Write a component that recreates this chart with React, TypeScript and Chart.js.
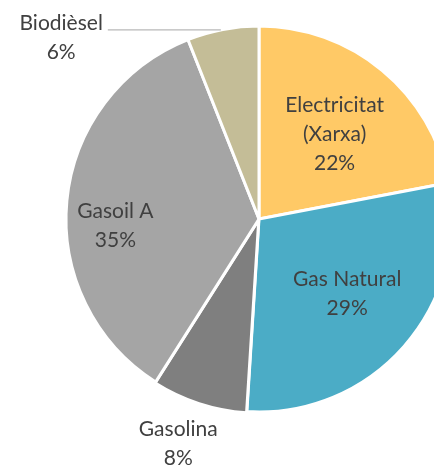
import React, { useEffect, useRef } from "react";
import { Chart, registerables } from "chart.js";

Chart.register(...registerables);

const categories = ["Electricitat (Xarxa)", "Gas Natural", "Gasolina", "Gasoil A", "Biodièsel"];
const values = [22, 29, 8, 35, 6];
const colors = ["#FFC966", "#4BACC6", "#7F7F7F", "#A5A5A5", "#C4BD97"];

// label placement (style): radial factor of outer radius, angle nudge (deg), leader line
const placement = [
  { r: 0.59, dA: 2 },
  { r: 0.6, dA: -1 },
  { r: 1.235, dA: 1.8 },
  { r: 0.745, dA: -8.2 },
  { leader: 113 },
];

const FONT = "21px Lato";
const TEXT_COLOR = "#404040";
const LINE_H = 29;

function wrapLines(ctx: CanvasRenderingContext2D, text: string, maxW: number): string[] {
  const words = text.split(" ");
  const lines: string[] = [];
  let cur = "";
  for (const w of words) {
    const t = cur ? cur + " " + w : w;
    if (cur && ctx.measureText(t).width > maxW) {
      lines.push(cur);
      cur = w;
    } else cur = t;
  }
  if (cur) lines.push(cur);
  return lines;
}

const labelPlugin = {
  id: "pieLabels",
  afterDatasetsDraw(chart: any) {
    const ctx: CanvasRenderingContext2D = chart.ctx;
    const meta = chart.getDatasetMeta(0);
    const data = chart.data.datasets[0].data as number[];
    const total = data.reduce((a, b) => a + b, 0);
    ctx.save();
    ctx.font = FONT;
    ctx.fillStyle = TEXT_COLOR;
    ctx.textAlign = "center";
    ctx.textBaseline = "middle";
    meta.data.forEach((arc: any, i: number) => {
      const p = arc.getProps(["x", "y", "startAngle", "endAngle", "outerRadius"], true);
      const mid = (p.startAngle + p.endAngle) / 2;
      const pct = Math.round((data[i] / total) * 100) + "%";
      const lines = [...wrapLines(ctx, chart.data.labels[i], 140), pct];
      const pl: any = placement[i];
      if (pl.leader) {
        const lx = p.x + Math.cos(mid) * p.outerRadius - 2;
        const ly = p.y + Math.sin(mid) * p.outerRadius;
        const ex = lx - pl.leader;
        ctx.save();
        ctx.strokeStyle = "#A6A6A6";
        ctx.lineWidth = 1;
        ctx.beginPath();
        ctx.moveTo(lx, ly + 0.5);
        ctx.lineTo(ex, ly + 0.5);
        ctx.stroke();
        ctx.restore();
        const w = Math.max(...lines.map((l) => ctx.measureText(l).width));
        const cx = ex - 5 - w / 2;
        lines.forEach((l, k) => ctx.fillText(l, cx, ly - 6 + k * LINE_H));
      } else {
        const a = mid + (pl.dA * Math.PI) / 180;
        const cx = p.x + Math.cos(a) * p.outerRadius * pl.r;
        const cy = p.y + Math.sin(a) * p.outerRadius * pl.r;
        const y0 = cy - ((lines.length - 1) * LINE_H) / 2;
        lines.forEach((l, k) => ctx.fillText(l, cx, y0 + k * LINE_H));
      }
    });
    ctx.restore();
  },
};

export default function App() {
  const ref = useRef<HTMLCanvasElement>(null);
  useEffect(() => {
    if (!ref.current) return;
    const chart = new Chart(ref.current, {
      type: "pie",
      data: {
        labels: categories,
        datasets: [
          {
            data: values,
            backgroundColor: colors,
            borderColor: "#FFFFFF",
            borderWidth: 3,
            offset: [0, 0, 3, 0, 0],
          },
        ],
      },
      options: {
        responsive: false,
        animation: false,
        layout: { padding: { top: 23, bottom: 50, left: 0, right: 2 } },
        plugins: { legend: { display: false }, tooltip: { enabled: false } },
      },
      plugins: [labelPlugin],
    });
    return () => chart.destroy();
  }, []);
  return (
    <div style={{ position: "absolute", left: 0, top: 0, width: 434, height: 465, overflow: "hidden", background: "#fff" }}>
      <canvas ref={ref} width={520} height={465} />
    </div>
  );
}
